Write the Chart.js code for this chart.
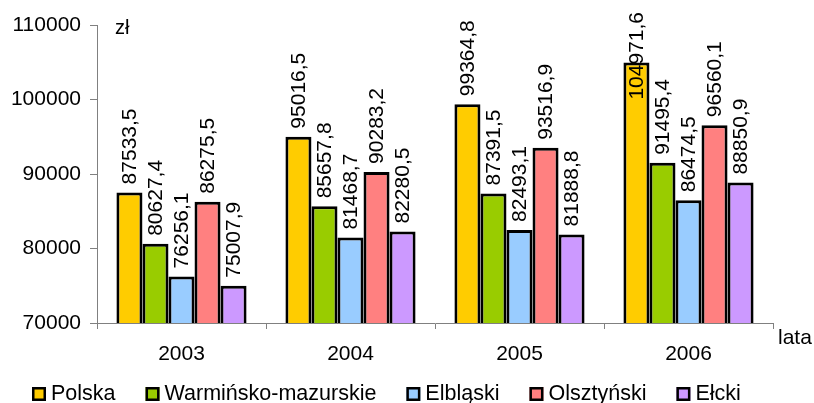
<!DOCTYPE html>
<html><head><meta charset="utf-8">
<script src="https://cdn.jsdelivr.net/npm/chart.js@4/dist/chart.umd.min.js"></script>
<style>html,body{margin:0;padding:0;background:#fff}</style>
</head><body>
<canvas id="c" width="814" height="403"></canvas>
<script>
const years = ['2003','2004','2005','2006'];
const seriesNames = ['Polska','Warmińsko-mazurskie','Elbląski','Olsztyński','Ełcki'];
const polska = [87533.5, 95016.5, 99364.8, 104971.6];
const warminsko = [80627.4, 85657.8, 87391.5, 91495.4];
const elblaski = [76256.1, 81468.7, 82493.1, 86474.5];
const olsztynski = [86275.5, 90283.2, 93516.9, 96560.1];
const elcki = [75007.9, 82280.5, 81888.8, 88850.9];
const colors = ['#FFCC00','#99CC00','#99CCFF','#FF8080','#CC99FF'];
const yTicks = [70000, 80000, 90000, 100000, 110000];
const yUnit = 'zł';
const xUnit = 'lata';

const FONT = '"Liberation Sans", Arial, sans-serif';
const allSeries = [polska, warminsko, elblaski, olsztynski, elcki];
const fmt = v => v.toFixed(1).replace('.', ',');

const extras = {
  id: 'extras',
  afterDatasetsDraw(chart) {
    const ctx = chart.ctx;
    ctx.save();
    ctx.fillStyle = '#000';
    ctx.font = '21px ' + FONT;
    chart.data.datasets.forEach((ds, di) => {
      const meta = chart.getDatasetMeta(di);
      meta.data.forEach((bar, i) => {
        const txt = fmt(ds.data[i]);
        const w = ctx.measureText(txt).width;
        let start = bar.y - 8;
        if (start - w < 12) start = 12 + w;
        ctx.save();
        ctx.translate(bar.x + 1, start);
        ctx.rotate(-Math.PI / 2);
        ctx.textAlign = 'left';
        ctx.textBaseline = 'middle';
        ctx.fillText(txt, 0, 0);
        ctx.restore();
      });
    });
    const a = chart.chartArea;
    ctx.font = '20px ' + FONT;
    ctx.textAlign = 'left';
    ctx.textBaseline = 'middle';
    ctx.fillText(yUnit, a.left + 18, a.top + 3);
    ctx.font = '21px ' + FONT;
    ctx.fillText(xUnit, a.right + 5, a.bottom + 15);
    // legend
    let x = 32;
    const y = 394;
    seriesNames.forEach((n, i) => {
      ctx.fillStyle = colors[i];
      ctx.fillRect(x, y - 7, 14, 14);
      ctx.strokeStyle = '#000';
      ctx.lineWidth = 2.5;
      ctx.strokeRect(x + 1.25, y - 5.75, 11.5, 11.5);
      ctx.fillStyle = '#000';
      ctx.font = '21.5px ' + FONT;
      ctx.fillText(n, x + 19, y);
      x += 19 + ctx.measureText(n).width + 30;
    });
    ctx.restore();
  }
};

new Chart(document.getElementById('c'), {
  type: 'bar',
  data: {
    labels: years,
    datasets: seriesNames.map((n, i) => ({
      label: n,
      data: allSeries[i],
      backgroundColor: colors[i],
      borderColor: '#000',
      borderWidth: 3,
      borderSkipped: false,
      categoryPercentage: 0.77,
      barPercentage: 1.0
    }))
  },
  options: {
    responsive: false,
    animation: false,
    layout: { padding: { left: 0, right: 41, top: 25, bottom: 39 } },
    plugins: { legend: { display: false }, tooltip: { enabled: false } },
    scales: {
      x: {
        grid: { drawOnChartArea: false, drawTicks: true, tickLength: 6, color: '#808080', offset: true },
        border: { color: '#808080', width: 1 },
        ticks: { color: '#000', font: { family: FONT, size: 21 }, padding: 13 },
        afterFit: s => { s.height = 41; }
      },
      y: {
        min: 70000, max: 110000,
        afterBuildTicks: s => { s.ticks = yTicks.map(v => ({ value: v })); },
        grid: { drawOnChartArea: false, drawTicks: true, tickLength: 7, color: '#808080' },
        border: { color: '#808080', width: 1 },
        ticks: { color: '#000', font: { family: FONT, size: 21 }, padding: 9, callback: v => String(v) },
        afterFit: s => { s.width = 97; }
      }
    }
  },
  plugins: [extras]
});
</script>
</body></html>
